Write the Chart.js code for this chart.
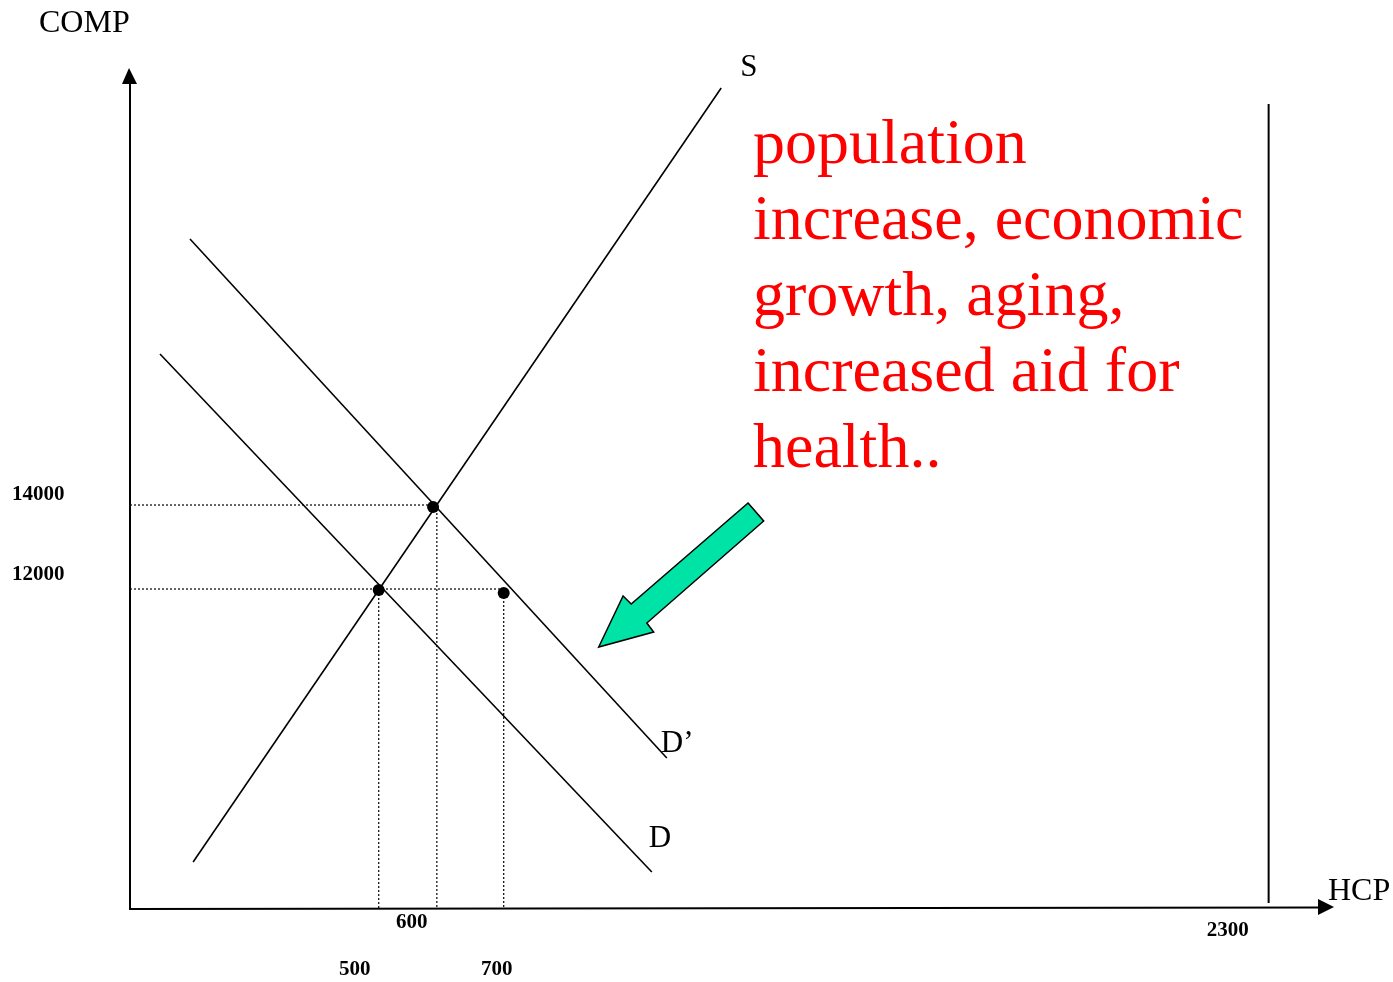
<!DOCTYPE html>
<html>
<head>
<meta charset="utf-8">
<script src="https://cdn.jsdelivr.net/npm/chart.js@4"></script>
<style>
  html, body { margin: 0; padding: 0; background: #fff; }
  #wrap { width: 1393px; height: 982px; }
</style>
</head>
<body>
<div id="wrap"><canvas id="chart" width="1393" height="982"></canvas></div>
<script>
// Axis ranges (HCP on x, COMP on y)
const xRange = [104, 2029];
const yRange = [4381, 24405];

// Curves, as [HCP, COMP] end points
const supply = [[205, 5500], [1050, 23930]];
const demand = [[152, 17595], [939, 5262]];
const demandShift = [[200, 20333], [963, 7976]];
const capacity = [[1926, 4524], [1926, 23548]];

// Equilibrium points
const dots = [[502, 11976], [589, 13952], [702, 11905]];

// Guide lines (dotted)
const guideComp = [14000, 12000];
const guideCompEnd = [589, 702];
const guideHcp = [502, 595, 702];
const guideHcpTop = [11976, 14000, 11905];

// Tick labels
const hcpTicks = ['500', '600', '700', '2300'];
const compTicks = ['14000', '12000'];

// Curve labels
const curveLabels = ['S', 'D\u2019', 'D'];

// Note and shift arrow
const noteLines = ['population', 'increase, economic', 'growth, aging,', 'increased aid for', 'health..'];
const shiftArrow = [[1093, 14048], [1118, 13619], [931, 11190], [942, 10976], [854, 10619], [893, 11833], [906, 11643]];

const pts = arr => arr.map(p => ({ x: p[0], y: p[1] }));

function solid(data) {
    return { data: pts(data), showLine: true, borderColor: '#000', borderWidth: 1.6, pointRadius: 0 };
}

const datasets = [
    solid(supply),
    solid(demand),
    solid(demandShift),
    Object.assign(solid(capacity), { borderWidth: 2 }),
];
guideComp.forEach((v, i) => {
    datasets.push({ data: [{ x: xRange[0], y: v }, { x: guideCompEnd[i], y: v }], showLine: true,
        borderColor: '#000', borderWidth: 1.2, borderDash: [2, 2], pointRadius: 0 });
});
guideHcp.forEach((v, i) => {
    datasets.push({ data: [{ x: v, y: guideHcpTop[i] }, { x: v, y: yRange[0] }], showLine: true,
        borderColor: '#000', borderWidth: 1.2, borderDash: [2, 2], pointRadius: 0 });
});
datasets.push({ data: pts(dots), showLine: false, pointRadius: 6, pointBackgroundColor: '#000', pointBorderWidth: 0 });

// axes with arrows, labels, note text, green arrow
const decor = {
    id: 'decor',
    afterDatasetsDraw(chart) {
        const { ctx, chartArea: a, scales: { x, y } } = chart;
        ctx.save();
        ctx.strokeStyle = '#000';
        ctx.fillStyle = '#000';
        ctx.lineWidth = 2;
        // axes
        ctx.beginPath();
        ctx.moveTo(a.left, a.top + 12);
        ctx.lineTo(a.left, a.bottom);
        ctx.lineTo(a.right - 14, a.bottom - 1.5);
        ctx.stroke();
        ctx.beginPath();
        ctx.moveTo(a.left - 1, a.top);
        ctx.lineTo(a.left - 8, a.top + 16);
        ctx.lineTo(a.left + 7, a.top + 16);
        ctx.closePath();
        ctx.fill();
        ctx.beginPath();
        ctx.moveTo(a.right + 1, a.bottom - 2);
        ctx.lineTo(a.right - 15, a.bottom - 10);
        ctx.lineTo(a.right - 15, a.bottom + 6);
        ctx.closePath();
        ctx.fill();

        // axis titles
        ctx.font = '32px "Liberation Serif", "Times New Roman", serif';
        ctx.textBaseline = 'alphabetic';
        ctx.textAlign = 'left';
        ctx.fillText('COMP', 39, 32);
        ctx.fillText('HCP', 1328, 900);

        // curve labels
        ctx.font = '31px "Liberation Serif", "Times New Roman", serif';
        ctx.fillText(curveLabels[0], x.getPixelForValue(supply[1][0]) + 19, y.getPixelForValue(supply[1][1]) - 12);
        ctx.fillText(curveLabels[1], x.getPixelForValue(demandShift[1][0]) - 6, y.getPixelForValue(demandShift[1][1]) - 6);
        ctx.fillText(curveLabels[2], x.getPixelForValue(demand[1][0]) - 3, y.getPixelForValue(demand[1][1]) - 25);

        // tick labels
        ctx.font = 'bold 21px "Liberation Serif", "Times New Roman", serif';
        ctx.textAlign = 'center';
        ctx.fillText(hcpTicks[0], x.getPixelForValue(guideHcp[0]) - 24, a.bottom + 66);
        ctx.fillText(hcpTicks[1], x.getPixelForValue(guideHcp[1]) - 25, a.bottom + 19);
        ctx.fillText(hcpTicks[2], x.getPixelForValue(guideHcp[2]) - 7, a.bottom + 66);
        ctx.fillText(hcpTicks[3], x.getPixelForValue(capacity[0][0]) - 41, a.bottom + 27);
        ctx.textAlign = 'left';
        ctx.fillText(compTicks[0], 12, y.getPixelForValue(guideComp[0]) - 5);
        ctx.fillText(compTicks[1], 12, y.getPixelForValue(guideComp[1]) - 9);

        // note
        ctx.fillStyle = '#ff0000';
        ctx.font = '64px "Liberation Serif", "Times New Roman", serif';
        noteLines.forEach((t, i) => ctx.fillText(t, 753, 163 + i * 76));

        // shift arrow
        ctx.beginPath();
        shiftArrow.forEach((p, i) => {
            const px = x.getPixelForValue(p[0]), py = y.getPixelForValue(p[1]);
            if (i === 0) ctx.moveTo(px, py); else ctx.lineTo(px, py);
        });
        ctx.closePath();
        ctx.fillStyle = '#00e3a6';
        ctx.fill();
        ctx.strokeStyle = '#000';
        ctx.lineWidth = 1.5;
        ctx.lineJoin = 'miter';
        ctx.stroke();
        ctx.restore();
    }
};

new Chart(document.getElementById('chart'), {
    type: 'scatter',
    data: { datasets },
    options: {
        responsive: false,
        animation: false,
        layout: { padding: { left: 130, right: 60, top: 68, bottom: 73 } },
        plugins: { legend: { display: false }, tooltip: { enabled: false } },
        scales: {
            x: { type: 'linear', display: false, min: xRange[0], max: xRange[1] },
            y: { type: 'linear', display: false, min: yRange[0], max: yRange[1] }
        }
    },
    plugins: [decor]
});
</script>
</body>
</html>
